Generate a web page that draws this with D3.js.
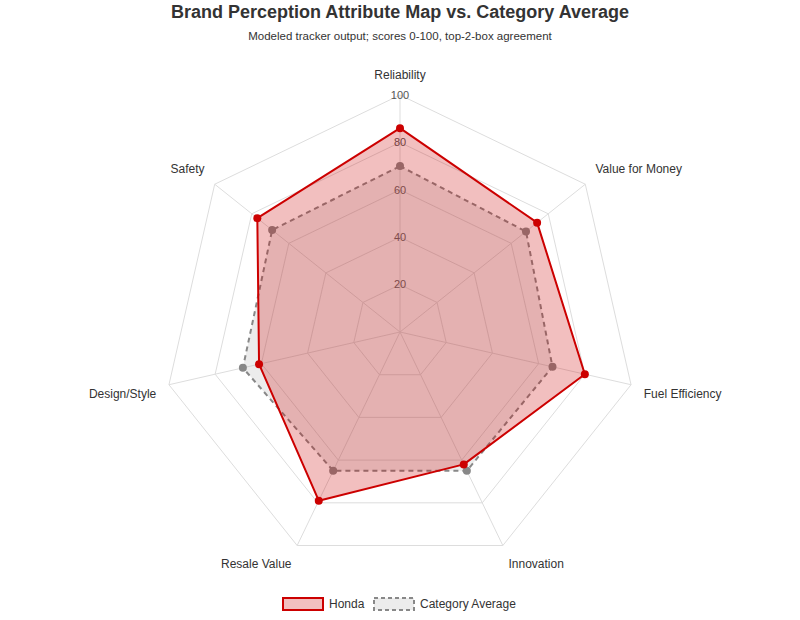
<!DOCTYPE html>
<html>
<head>
<meta charset="utf-8">
<script src="https://cdn.jsdelivr.net/npm/d3@7"></script>
<style>
  body { margin: 0; background: #fff; font-family: "Liberation Sans", Arial, sans-serif; }
</style>
</head>
<body>
<div id="chart"></div>
<script>
const width = 800;
const height = 620;
const cx = 400;
const cy = 332;
const radius = 237;

const axes = ["Reliability", "Value for Money", "Fuel Efficiency", "Innovation", "Resale Value", "Design/Style", "Safety"];
const hondaValues = [86, 74, 80, 62, 79, 61, 77];
const categoryValues = [70, 68, 66, 65, 65, 68, 69];
const ticks = [20, 40, 60, 80, 100];

const svg = d3.select('#chart')
              .append('svg')
              .attr('width', width)
              .attr('height', height);

const rScale = d3.scaleLinear().domain([0, 100]).range([0, radius]);
const angle = i => i * 2 * Math.PI / axes.length;
const pt = (i, v) => [cx + rScale(v) * Math.sin(angle(i)), cy - rScale(v) * Math.cos(angle(i))];

// title
svg.append('text')
   .attr('x', width / 2).attr('y', 18)
   .attr('text-anchor', 'middle')
   .style('font-size', '18px').style('font-weight', 'bold').style('fill', '#333')
   .text('Brand Perception Attribute Map vs. Category Average');

svg.append('text')
   .attr('x', width / 2).attr('y', 40)
   .attr('text-anchor', 'middle')
   .style('font-size', '11.5px').style('fill', '#333')
   .text('Modeled tracker output; scores 0-100, top-2-box agreement');

// grid rings
const grid = svg.append('g');
grid.selectAll('polygon')
    .data(ticks)
    .enter()
    .append('polygon')
    .attr('points', t => axes.map((a, i) => pt(i, t).join(',')).join(' '))
    .attr('fill', 'none')
    .attr('stroke', '#dddddd')
    .attr('stroke-width', 1);

grid.selectAll('line')
    .data(axes)
    .enter()
    .append('line')
    .attr('x1', cx).attr('y1', cy)
    .attr('x2', (d, i) => pt(i, 100)[0])
    .attr('y2', (d, i) => pt(i, 100)[1])
    .attr('stroke', '#dddddd')
    .attr('stroke-width', 1);

// tick labels
grid.selectAll('text')
    .data(ticks)
    .enter()
    .append('text')
    .attr('x', cx)
    .attr('y', t => cy - rScale(t))
    .attr('dy', '0.35em')
    .attr('text-anchor', 'middle')
    .style('font-size', '11px')
    .style('fill', '#555')
    .text(t => t);

// axis labels
svg.append('g').selectAll('text')
   .data(axes)
   .enter()
   .append('text')
   .attr('x', (d, i) => cx + 250 * Math.sin(angle(i)))
   .attr('y', (d, i) => cy - 250 * Math.cos(angle(i)))
   .attr('dy', (d, i) => Math.cos(angle(i)) > 0 ? '-0.25em' : '0.9em')
   .attr('text-anchor', (d, i) => {
       const s = Math.sin(angle(i));
       return Math.abs(s) < 0.01 ? 'middle' : (s > 0 ? 'start' : 'end');
   })
   .style('font-size', '12px')
   .style('fill', '#333')
   .text(d => d);

function drawSeries(values, stroke, fill, dash, pointColor) {
    const g = svg.append('g');
    g.append('polygon')
     .attr('points', values.map((v, i) => pt(i, v).join(',')).join(' '))
     .attr('fill', fill)
     .attr('stroke', stroke)
     .attr('stroke-width', 2)
     .attr('stroke-dasharray', dash)
     .attr('stroke-linejoin', 'round');
    g.selectAll('circle')
     .data(values)
     .enter()
     .append('circle')
     .attr('cx', (v, i) => pt(i, v)[0])
     .attr('cy', (v, i) => pt(i, v)[1])
     .attr('r', 4)
     .attr('fill', pointColor);
}

drawSeries(categoryValues, '#888888', 'rgba(160,160,160,0.2)', '5,4', '#888888');
drawSeries(hondaValues, '#cc0000', 'rgba(204,0,0,0.25)', null, '#cc0000');

// legend
const legendData = [
    { name: 'Honda', stroke: '#cc0000', fill: 'rgba(204,0,0,0.25)', dash: null, x: 283 },
    { name: 'Category Average', stroke: '#888888', fill: 'rgba(160,160,160,0.2)', dash: '4,3', x: 374 }
];
const legend = svg.append('g').selectAll('g')
    .data(legendData)
    .enter()
    .append('g')
    .attr('transform', d => `translate(${d.x},598)`);

legend.append('rect')
      .attr('width', 40).attr('height', 12)
      .attr('fill', d => d.fill)
      .attr('stroke', d => d.stroke)
      .attr('stroke-width', 2)
      .attr('stroke-dasharray', d => d.dash);

legend.append('text')
      .attr('x', 46).attr('y', 6)
      .attr('dy', '0.35em')
      .style('font-size', '12px')
      .style('fill', '#333')
      .text(d => d.name);
</script>
</body>
</html>
